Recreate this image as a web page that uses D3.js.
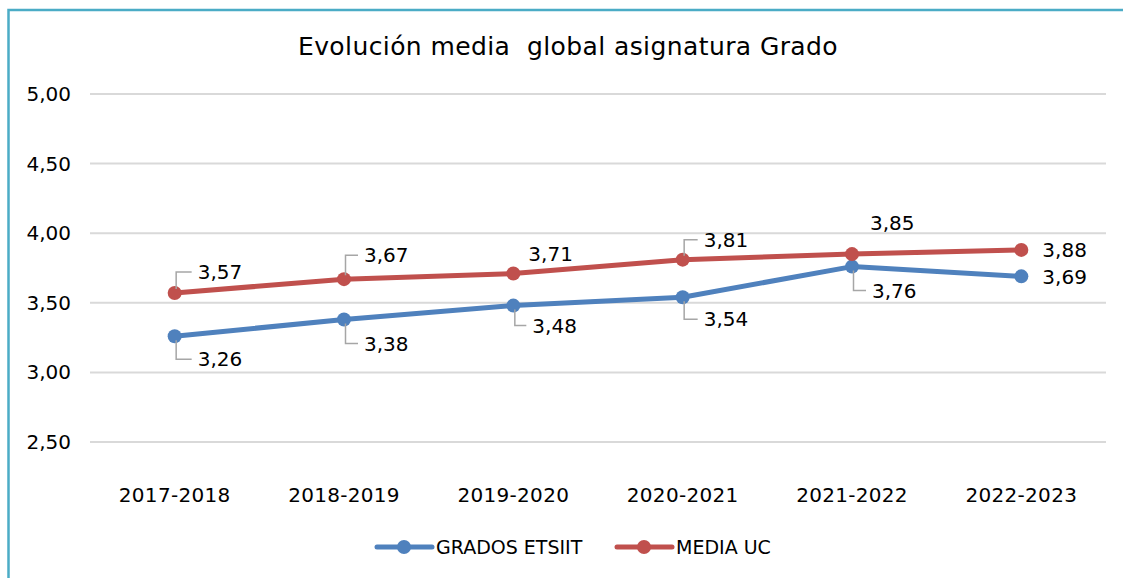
<!DOCTYPE html>
<html><head><meta charset="utf-8">
<script src="https://cdn.jsdelivr.net/npm/d3@7"></script>
<style>body{margin:0;background:#fff;}svg{display:block;}</style>
</head><body>
<script>
const categories = ["2017-2018","2018-2019","2019-2020","2020-2021","2021-2022","2022-2023"];
const gradosEtsiit = [3.26,3.38,3.48,3.54,3.76,3.69];
const mediaUC = [3.57,3.67,3.71,3.81,3.85,3.88];
const seriesNames = ["GRADOS ETSIIT","MEDIA UC"];
const yTicks = [2.5,3.0,3.5,4.0,4.5,5.0];
const titleText = "Evolución media global asignatura Grado";

// label layout (offsets relative to the point): dx of text start, dy of text center, leader flag
const redLabelLayout = [[23,-21,true],[20,-24,true],[15,-20,false],[21,-20,true],[18,-31,false],[21,0,false]];
const blueLabelLayout = [[23,23,true],[20,24,true],[19,20,true],[21,22,true],[20,24,true],[21,0,false]];

const W = 1123, H = 578;
const svg = d3.select("body").append("svg").attr("width", W).attr("height", H);
const fmt = v => d3.format(".2f")(v).replace(".", ",");

// border
svg.append("path").attr("d", `M8.5,${H+5} L8.5,10 L${W+5},10`)
  .attr("fill","none").attr("stroke","#4bacc6").attr("stroke-width",2.5);

svg.append("text").attr("x", 568).attr("y", 46).attr("text-anchor","middle")
  .attr("dominant-baseline","central")
  .style("font-family","DejaVu Sans").style("font-size","25px").style("letter-spacing","0.4px").attr("fill","#000")
  .attr("xml:space","preserve").text(titleText.replace("media global","media  global"));

const left = 90, right = 1106;
const x = d3.scaleBand().domain(categories).range([left, right]);
const y = d3.scaleLinear().domain([2.5, 5]).range([442, 94]);

// gridlines
svg.append("g").selectAll("line").data(yTicks).join("line")
  .attr("x1", left).attr("x2", right)
  .attr("y1", d => y(d)).attr("y2", d => y(d))
  .attr("stroke","#d9d9d9").attr("stroke-width",2);

// y axis labels
const yAxis = d3.axisLeft(y).tickValues(yTicks).tickFormat(fmt).tickSize(0).tickPadding(0);
const gy = svg.append("g").attr("transform","translate(71,0)").call(yAxis);
gy.select(".domain").remove();
gy.selectAll("text").style("font-family","DejaVu Sans").style("font-size","20px").attr("fill","#000");

// x axis labels
const xAxis = d3.axisBottom(x).tickSize(0).tickPadding(0);
const gx = svg.append("g").attr("transform","translate(0,495)").call(xAxis);
gx.select(".domain").remove();
gx.selectAll("text").attr("dy","0.35em").style("font-family","DejaVu Sans").style("font-size","20px").style("letter-spacing","0.3px").attr("fill","#000");

const cx = c => x(c) + x.bandwidth()/2;
const series = [
  {name: seriesNames[0], values: gradosEtsiit, color: "#4f81bd", layout: blueLabelLayout},
  {name: seriesNames[1], values: mediaUC, color: "#c0504d", layout: redLabelLayout}
];
const line = d3.line().x((d,i) => cx(categories[i])).y(d => y(d));

series.forEach(s => {
  const g = svg.append("g");
  g.append("path").attr("d", line(s.values)).attr("fill","none")
    .attr("stroke", s.color).attr("stroke-width",5).attr("stroke-linejoin","round").attr("stroke-linecap","round");
  g.selectAll("circle").data(s.values).join("circle")
    .attr("cx",(d,i)=>cx(categories[i])).attr("cy",d=>y(d)).attr("r",7).attr("fill",s.color);
});

// data labels
series.forEach(s => {
  const g = svg.append("g");
  s.values.forEach((v,i) => {
    const px = cx(categories[i]), py = y(v);
    const [dx, dy, leader] = s.layout[i];
    if (leader) {
      const ly = py + dy;
      const sx = px + 1.5;
      const sy = py + (dy < 0 ? -4 : 4);
      g.append("path").attr("d", `M${sx},${sy} L${sx},${ly} L${px+dx-6},${ly}`)
        .attr("fill","none").attr("stroke","#a6a6a6").attr("stroke-width",1.5);
    }
    g.append("text").attr("x", px+dx).attr("y", py+dy).attr("dy","0.36em")
      .style("font-family","DejaVu Sans").style("font-size","20px").attr("fill","#000")
      .text(fmt(v));
  });
});

// legend
const legend = svg.append("g");
const legendItems = [{x0:377, tx:436},{x0:617, tx:676}];
series.forEach((s,i) => {
  const it = legendItems[i];
  legend.append("line").attr("x1", it.x0).attr("x2", it.x0+55).attr("y1",547).attr("y2",547)
    .attr("stroke", s.color).attr("stroke-width",5).attr("stroke-linecap","round");
  legend.append("circle").attr("cx", it.x0+27).attr("cy",547).attr("r",7).attr("fill",s.color);
  legend.append("text").attr("x", it.tx).attr("y",547).attr("dy","0.36em")
    .style("font-family","DejaVu Sans").style("font-size","19px").attr("fill","#000").text(s.name);
});
</script>
</body></html>
